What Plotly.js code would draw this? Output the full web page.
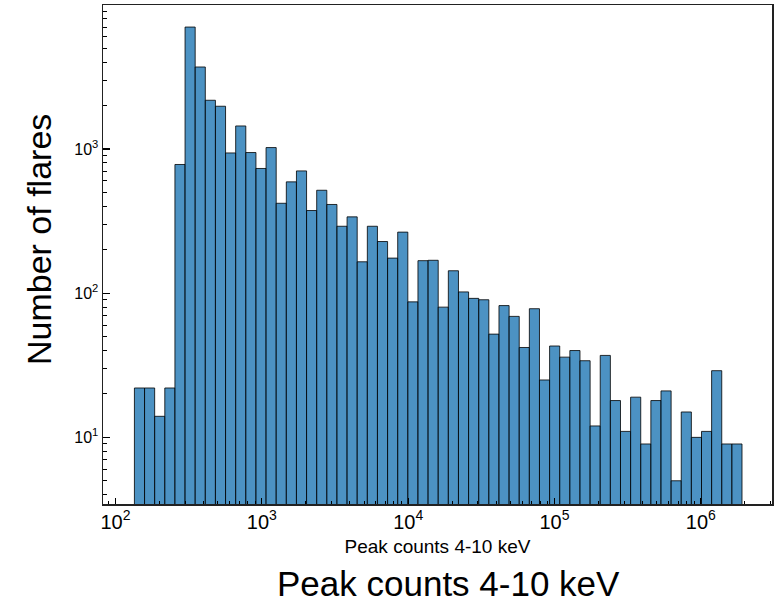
<!DOCTYPE html>
<html>
<head>
<meta charset="utf-8">
<script src="https://cdn.plot.ly/plotly-3.0.1.min.js"></script>
<style>html,body{margin:0;padding:0;background:#fff;}#chart{width:774px;height:602px;}</style>
</head>
<body>
<div id="chart"></div>
<script>
// Histogram of flare peak counts (4-10 keV), 60 logarithmic bins
const binLowest = 134.8;     // left edge of first bin
const binHighest = 1.91e6;   // right edge of last bin
const flareCounts = [22, 22, 14, 22, 780, 7000, 3700, 2175, 1977, 938,
                     1443, 944, 732, 1022, 420, 591, 704, 374, 517, 412,
                     291, 338, 165, 291, 228, 175, 265, 87, 168, 169,
                     80, 143, 102, 92, 90, 52, 82, 69, 42, 78,
                     25, 43, 36, 40, 34, 12, 37, 18, 11, 19,
                     9, 18, 21, 5, 15, 10, 11, 29, 9, 9];
const xTitle = "Peak counts 4-10 keV";
const yTitle = "Number of flares";
const yTickVals = [10, 100, 1000];
const yTickText = ["10<sup>1</sup>", "10<sup>2</sup>", "10<sup>3</sup>"];

const nBins = flareCounts.length;
const l0 = Math.log10(binLowest), l1 = Math.log10(binHighest);
const edges = [];
for (let i = 0; i <= nBins; i++) edges.push(Math.pow(10, l0 + (l1 - l0) * i / nBins));
const centers = [], widths = [];
for (let i = 0; i < nBins; i++) { centers.push((edges[i] + edges[i + 1]) / 2); widths.push(edges[i + 1] - edges[i]); }

// minor tick positions for the log y axis (2..9 times each decade)
const yMinor = [];
for (let d = 1; d <= 1000; d *= 10) for (let m = 2; m <= 9; m++) yMinor.push(m * d);

const font = "Liberation Sans, Arial, Helvetica, sans-serif";

const trace = {
  type: "bar", x: centers, y: flareCounts, width: widths,
  marker: { color: "rgba(31,119,180,0.8)", line: { color: "rgba(0,0,0,0.8)", width: 1 } },
  hoverinfo: "x+y"
};

const layout = {
  width: 774, height: 602,
  margin: { l: 103, r: 2, t: 5, b: 98 },
  paper_bgcolor: "#fff", plot_bgcolor: "#fff",
  showlegend: false, bargap: 0,
  font: { family: font, color: "#000" },
  xaxis: {
    type: "log", range: [1.915, 6.486], dtick: 1, exponentformat: "power",
    ticks: "inside", ticklen: 6, tickwidth: 1.2, tickcolor: "#000",
    minor: { ticks: "inside", ticklen: 3, tickwidth: 1, tickcolor: "#000", showgrid: false },
    showgrid: false, zeroline: false,
    showline: true, linecolor: "#222", linewidth: 1.5, mirror: true,
    tickfont: { size: 16, family: font },
    title: { text: xTitle, font: { size: 19, family: font }, standoff: 8 }
  },
  yaxis: {
    type: "log", range: [0.538, 3.998],
    tickmode: "array", tickvals: yTickVals, ticktext: yTickText,
    ticks: "inside", ticklen: 7, tickwidth: 1.2, tickcolor: "#000",
    minor: { tickmode: "array", tickvals: yMinor, ticks: "inside", ticklen: 4, tickwidth: 1, tickcolor: "#000", showgrid: false },
    showgrid: false, zeroline: false,
    showline: true, linecolor: "#222", linewidth: 1.5, mirror: true,
    tickfont: { size: 16, family: font }
  },
  annotations: [
    { text: xTitle, xref: "paper", yref: "paper", x: (448 - 103) / 669, y: (504 - 583) / 499,
      xanchor: "center", yanchor: "middle", showarrow: false, font: { size: 35, family: font, color: "#000" } },
    { text: yTitle, xref: "paper", yref: "paper", x: (39 - 103) / 669, y: (504 - 240) / 499, textangle: -90,
      xanchor: "center", yanchor: "middle", showarrow: false, font: { size: 34, family: font, color: "#000" } }
  ]
};

Plotly.newPlot("chart", [trace], layout, { displayModeBar: false, staticPlot: true });
</script>
</body>
</html>
